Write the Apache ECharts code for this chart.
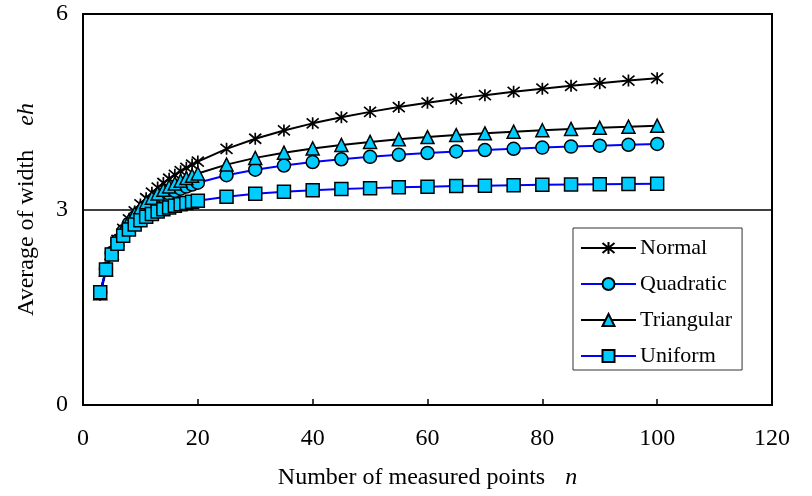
<!DOCTYPE html>
<html>
<head>
<meta charset="utf-8">
<script src="https://cdn.jsdelivr.net/npm/echarts@6/dist/echarts.min.js"></script>
<style>
  html, body { margin: 0; padding: 0; background: #fff; }
  #chart { width: 812px; height: 496px; }
</style>
</head>
<body>
<div id="chart"></div>
<script>
// Number of measured points
var nValues = [3, 4, 5, 6, 7, 8, 9, 10, 11, 12, 13, 14, 15, 16, 17, 18, 19, 20,
  25, 30, 35, 40, 45, 50, 55, 60, 65, 70, 75, 80, 85, 90, 95, 100];

var normalVals = [1.693, 2.059, 2.326, 2.534, 2.704, 2.847, 2.970, 3.078, 3.173, 3.258,
  3.336, 3.407, 3.472, 3.532, 3.588, 3.640, 3.689, 3.735,
  3.931, 4.086, 4.213, 4.322, 4.415, 4.498, 4.572, 4.639, 4.699, 4.755, 4.806, 4.854,
  4.898, 4.939, 4.978, 5.015];

var quadraticVals = [1.725, 2.083, 2.333, 2.520, 2.665, 2.783, 2.881, 2.963, 3.034, 3.096,
  3.151, 3.200, 3.244, 3.284, 3.320, 3.352, 3.383, 3.411,
  3.526, 3.610, 3.675, 3.728, 3.771, 3.808, 3.840, 3.867, 3.891, 3.913, 3.932, 3.950,
  3.965, 3.980, 3.993, 4.006];

var triangularVals = [1.715, 2.081, 2.338, 2.543, 2.700, 2.829, 2.937, 3.030, 3.111, 3.182,
  3.245, 3.302, 3.353, 3.400, 3.443, 3.482, 3.518, 3.552,
  3.689, 3.792, 3.872, 3.937, 3.991, 4.037, 4.077, 4.111, 4.142, 4.169, 4.194, 4.216,
  4.236, 4.254, 4.271, 4.287];

var uniformVals = [1.732, 2.078, 2.309, 2.474, 2.598, 2.694, 2.771, 2.834, 2.887, 2.931,
  2.969, 3.002, 3.031, 3.056, 3.079, 3.099, 3.118, 3.134,
  3.197, 3.240, 3.272, 3.295, 3.313, 3.328, 3.340, 3.350, 3.359, 3.366, 3.373, 3.378,
  3.383, 3.388, 3.392, 3.396];

var seriesNames = ['Normal', 'Quadratic', 'Triangular', 'Uniform'];
var xTicks = { min: 0, max: 120, interval: 20 };
var yTicks = { min: 0, max: 6, interval: 3 };

function pairs(vals) {
  return nValues.map(function (n, i) { return [n, vals[i]]; });
}

var FONT = '"Liberation Serif", "Times New Roman", serif';
var CYAN = '#00CCFF';
var BLUE = '#0000FF';
var STAR = 'path://M0,0L10,10M10,0L0,10M5,-1L5,11';

var chart = echarts.init(document.getElementById('chart'), null, { renderer: 'canvas' });

function mkSeries(name, vals, symbol, size, lineColor, isStar) {
  return {
    name: name,
    type: 'line',
    data: pairs(vals),
    symbol: symbol,
    symbolSize: size,
    showSymbol: true,
    showAllSymbol: true,
    animation: false,
    lineStyle: { color: lineColor, width: 2 },
    itemStyle: isStar
      ? { color: 'rgba(0,0,0,0)', borderColor: '#000', borderWidth: 1.7 }
      : { color: CYAN, borderColor: '#000', borderWidth: 1.5 },
    emphasis: { disabled: true }
  };
}

var option = {
  backgroundColor: '#fff',
  animation: false,
  textStyle: { fontFamily: FONT, color: '#000' },
  grid: {
    left: 83, right: 40, top: 14, bottom: 91,
    show: true, borderColor: '#000', borderWidth: 2, backgroundColor: 'transparent'
  },
  legend: {
    data: seriesNames,
    orient: 'vertical',
    left: 573, top: 228,
    itemWidth: 55, itemHeight: 15, itemGap: 14,
    padding: [9, 10, 3, 7],
    backgroundColor: '#fff',
    borderColor: '#333', borderWidth: 1,
    textStyle: { fontFamily: FONT, fontSize: 22, color: '#000', padding: [0, 0, 0, -1] }
  },
  xAxis: {
    type: 'value',
    min: xTicks.min, max: xTicks.max, interval: xTicks.interval,
    name: '{a|Number of measured points   }{b|n}',
    nameLocation: 'middle',
    nameGap: 61,
    nameTextStyle: {
      rich: {
        a: { fontFamily: FONT, fontSize: 24, color: '#000' },
        b: { fontFamily: FONT, fontSize: 24, color: '#000', fontStyle: 'italic', padding: [0, 0, 0, 2] }
      }
    },
    axisLine: { show: true, onZero: false, lineStyle: { color: '#000', width: 2 } },
    axisTick: { show: true, inside: true, length: 6, lineStyle: { color: '#000', width: 1.5 } },
    axisLabel: { fontFamily: FONT, fontSize: 24, color: '#000', margin: 22 },
    splitLine: { show: false }
  },
  yAxis: {
    type: 'value',
    min: yTicks.min, max: yTicks.max, interval: yTicks.interval,
    name: '{a|Average of width    }{b|eh}',
    nameLocation: 'middle',
    nameGap: 44,
    nameRotate: 90,
    nameTextStyle: {
      rich: {
        a: { fontFamily: FONT, fontSize: 24, color: '#000' },
        b: { fontFamily: FONT, fontSize: 24, color: '#000', fontStyle: 'italic' }
      }
    },
    axisLine: { show: true, onZero: false, lineStyle: { color: '#000', width: 2 } },
    axisTick: { show: false },
    axisLabel: { fontFamily: FONT, fontSize: 24, color: '#000', margin: 15 },
    splitLine: { show: true, lineStyle: { color: '#000', width: 1.5 } }
  },
  series: [
    mkSeries(seriesNames[0], normalVals, STAR, 12, '#000', true),
    mkSeries(seriesNames[1], quadraticVals, 'circle', 13, BLUE, false),
    mkSeries(seriesNames[2], triangularVals, 'triangle', 13, '#000', false),
    mkSeries(seriesNames[3], uniformVals, 'rect', 13, BLUE, false)
  ]
};

chart.setOption(option);
</script>
</body>
</html>
